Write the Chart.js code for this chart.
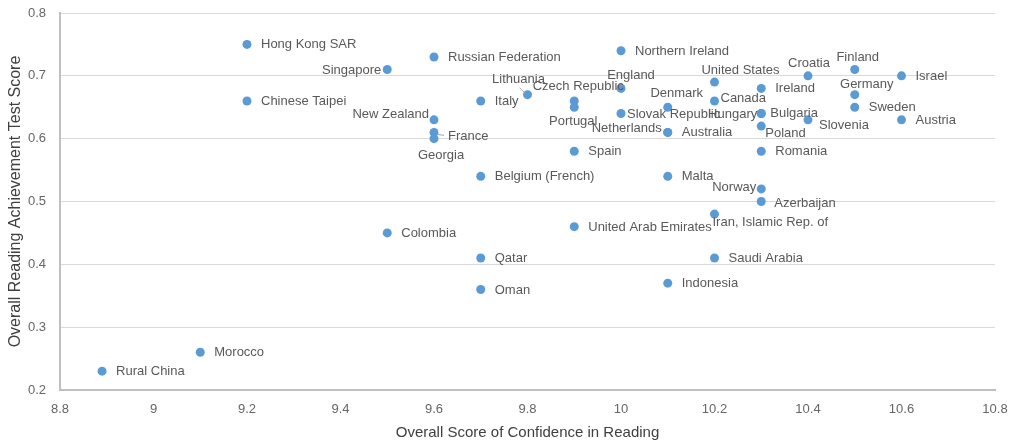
<!DOCTYPE html>
<html>
<head>
<meta charset="utf-8">
<script src="https://cdn.jsdelivr.net/npm/chart.js@4.4.1/dist/chart.umd.min.js"></script>
<style>
  html, body { margin: 0; padding: 0; background: #ffffff; }
  #wrap { width: 1018px; height: 442px; }
</style>
</head>
<body>
<div id="wrap"><canvas id="c" width="1018" height="442"></canvas></div>
<script>
// ---- Data ----
const countries = [
  "Hong Kong SAR", "Russian Federation", "Singapore", "Northern Ireland", "Finland",
  "Croatia", "Israel", "United States", "England", "Ireland",
  "Lithuania", "Germany", "Chinese Taipei", "Italy", "Czech Republic",
  "Canada", "Portugal", "Denmark", "Sweden", "Slovak Republic",
  "Hungary", "Bulgaria", "New Zealand", "Slovenia", "Austria",
  "Poland", "France", "Netherlands", "Australia", "Georgia",
  "Spain", "Romania", "Belgium (French)", "Malta", "Norway",
  "Azerbaijan", "Iran, Islamic Rep. of", "United Arab Emirates", "Colombia", "Qatar",
  "Saudi Arabia", "Indonesia", "Oman", "Morocco", "Rural China"
];
const confidence = [
  9.2, 9.6, 9.5, 10.0, 10.5,
  10.4, 10.6, 10.2, 10.0, 10.3,
  9.8, 10.5, 9.2, 9.7, 9.9,
  10.2, 9.9, 10.1, 10.5, 10.0,
  10.3, 10.3, 9.6, 10.4, 10.6,
  10.3, 9.6, 10.1, 10.1, 9.6,
  9.9, 10.3, 9.7, 10.1, 10.3,
  10.3, 10.2, 9.9, 9.5, 9.7,
  10.2, 10.1, 9.7, 9.1, 8.89
];
const achievement = [
  0.75, 0.73, 0.71, 0.74, 0.71,
  0.70, 0.70, 0.69, 0.68, 0.68,
  0.67, 0.67, 0.66, 0.66, 0.66,
  0.66, 0.65, 0.65, 0.65, 0.64,
  0.64, 0.64, 0.63, 0.63, 0.63,
  0.62, 0.61, 0.61, 0.61, 0.60,
  0.58, 0.58, 0.54, 0.54, 0.52,
  0.50, 0.48, 0.46, 0.45, 0.41,
  0.41, 0.37, 0.36, 0.26, 0.23
];
const xTitle = "Overall Score of Confidence in Reading";
const yTitle = "Overall Reading Achievement Test Score";

// ---- Label placement (style only) ----
const defaultPlace = { align: "left", dx: 14, dy: 0 };
const labelPlace = {
  "Singapore": { align: "right", dx: -6, dy: 0 },
  "Lithuania": { align: "center", dx: -9, dy: -16, leader: [-8, -7, -2, -1] },
  "Czech Republic": { align: "center", dx: 4, dy: -15 },
  "England": { align: "center", dx: 10, dy: -13 },
  "United States": { align: "center", dx: 26, dy: -12 },
  "Denmark": { align: "center", dx: 9, dy: -14 },
  "Canada": { align: "left", dx: 6, dy: -3 },
  "Slovak Republic": { align: "left", dx: 6, dy: 0 },
  "Portugal": { align: "center", dx: -1, dy: 14 },
  "Netherlands": { align: "right", dx: -6, dy: -4 },
  "Hungary": { align: "right", dx: -4, dy: 0 },
  "Bulgaria": { align: "left", dx: 9, dy: -1 },
  "Poland": { align: "left", dx: 4, dy: 7 },
  "Croatia": { align: "center", dx: 1, dy: -13 },
  "Finland": { align: "center", dx: 3, dy: -13 },
  "Germany": { align: "center", dx: 12, dy: -11 },
  "Slovenia": { align: "left", dx: 11, dy: 5 },
  "New Zealand": { align: "right", dx: -5, dy: -6 },
  "France": { align: "left", dx: 14, dy: 4, leader: [3, 2, 10, 3] },
  "Georgia": { align: "center", dx: 7, dy: 16 },
  "Norway": { align: "right", dx: -5, dy: -2 },
  "Azerbaijan": { align: "left", dx: 13, dy: 1 },
  "Iran, Islamic Rep. of": { align: "left", dx: -2, dy: 8 }
};

const FONT = "'Liberation Sans', Arial, Helvetica, sans-serif";

const pointLabels = {
  id: "pointLabels",
  afterDatasetsDraw(chart) {
    const meta = chart.getDatasetMeta(0);
    const ctx = chart.ctx;
    ctx.save();
    ctx.font = "13px " + FONT;
    ctx.fillStyle = "#595959";
    ctx.textBaseline = "middle";
    meta.data.forEach((el, i) => {
      const name = countries[i];
      const p = labelPlace[name] || defaultPlace;
      if (p.leader) {
        ctx.strokeStyle = "#a6a6a6";
        ctx.lineWidth = 1;
        ctx.beginPath();
        ctx.moveTo(el.x + p.leader[0], el.y + p.leader[1]);
        ctx.lineTo(el.x + p.leader[2], el.y + p.leader[3]);
        ctx.stroke();
      }
      ctx.textAlign = p.align;
      ctx.fillText(name, el.x + p.dx, el.y + p.dy + 0.5);
    });
    ctx.restore();
  }
};

const points = countries.map((n, i) => ({ x: confidence[i], y: achievement[i] }));

new Chart(document.getElementById("c"), {
  type: "scatter",
  data: {
    datasets: [{
      data: points,
      backgroundColor: "#5b9bd5",
      borderColor: "#5b9bd5",
      borderWidth: 0,
      pointRadius: 4.5,
      pointHoverRadius: 4.5
    }]
  },
  options: {
    responsive: false,
    animation: false,
    events: [],
    layout: { padding: { left: 0, right: 23, top: 13, bottom: 0 } },
    plugins: {
      legend: { display: false },
      tooltip: { enabled: false },
      title: { display: false }
    },
    scales: {
      x: {
        type: "linear",
        min: 8.8,
        max: 10.8,
        afterFit(scale) {
          scale.height = 52;
          scale.paddingLeft = 0;
          scale.paddingRight = 0;
        },
        ticks: {
          stepSize: 0.2,
          padding: 12,
          color: "#666666",
          font: { family: FONT, size: 13 },
          maxRotation: 0,
          callback: (v) => String(Number(v.toFixed(1)))
        },
        grid: { display: false, drawTicks: false },
        border: { display: true, color: "#bfbfbf", width: 2 },
        title: {
          display: true,
          text: xTitle,
          color: "#404040",
          font: { family: FONT, size: 15 },
          padding: { top: 0, bottom: 0 }
        }
      },
      y: {
        type: "linear",
        min: 0.2,
        max: 0.8,
        afterFit(scale) {
          scale.width = 60;
          scale.paddingTop = 0;
          scale.paddingBottom = 0;
        },
        ticks: {
          stepSize: 0.1,
          padding: 14,
          color: "#666666",
          font: { family: FONT, size: 13 },
          callback: (v) => String(Number(v.toFixed(1)))
        },
        grid: { color: "#d9d9d9", lineWidth: 1, drawTicks: false },
        border: { display: true, color: "#bfbfbf", width: 2 },
        title: {
          display: true,
          text: yTitle,
          color: "#404040",
          font: { family: FONT, size: 16 },
          padding: { top: 6, bottom: 0 }
        }
      }
    }
  },
  plugins: [pointLabels]
});
</script>
</body>
</html>
